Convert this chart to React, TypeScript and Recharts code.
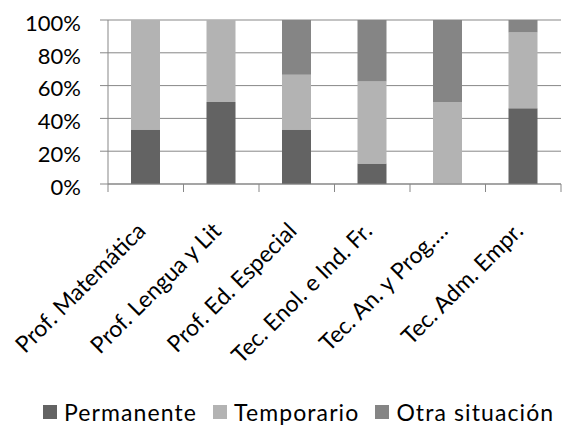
import { BarChart, Bar, XAxis, YAxis, CartesianGrid, Legend } from 'recharts';

const categories = [
  'Prof. Matemática',
  'Prof. Lengua y Lit',
  'Prof. Ed. Especial',
  'Tec. Enol. e Ind. Fr.',
  'Tec. An. y Prog.…',
  'Tec. Adm. Empr.',
];
const seriesNames = ['Permanente', 'Temporario', 'Otra situación'];
const permanente = [33.3, 50, 33.3, 12.5, 0, 46.2];
const temporario = [66.7, 50, 33.3, 50, 50, 46.2];
const otra = [0, 0, 33.4, 37.5, 50, 7.6];
const yTicks = [0, 0.2, 0.4, 0.6, 0.8, 1];

const data = categories.map((name, i) => ({
  name,
  permanente: permanente[i],
  temporario: temporario[i],
  otra: otra[i],
}));

const FONT = 'Lato, "Open Sans", sans-serif';
const GRID = '#878787';

function CategoryTick(props: any) {
  const { x, y, payload, index } = props;
  const half = payload?.offset ?? 37.75;
  const last = index === categories.length - 1;
  const tx = x - 5;
  const ty = y + 42;
  return (
    <g>
      <line x1={x - half} x2={x - half} y1={y} y2={y + 8} stroke={GRID} />
      {last && <line x1={x + half} x2={x + half} y1={y} y2={y + 8} stroke={GRID} />}
      <text
        x={tx}
        y={ty}
        transform={`rotate(-45, ${tx}, ${ty})`}
        textAnchor="end"
        dominantBaseline="central"
        fontFamily={FONT}
        fontSize={23}
        fill="#000"
      >
        {payload.value}
      </text>
    </g>
  );
}

function LegendContent(props: any) {
  const items = [...(props.payload || [])].sort(
    (a: any, b: any) => seriesNames.indexOf(a.value) - seriesNames.indexOf(b.value)
  );
  return (
    <div
      style={{
        height: 30,
        display: 'flex',
        justifyContent: 'flex-start',
        alignItems: 'center',
        paddingLeft: 43,
        whiteSpace: 'nowrap',
        fontFamily: FONT,
        fontSize: 23,
        letterSpacing: 1.1,
        color: '#000',
      }}
    >
      {items.map((entry: any, i: number) => (
        <div
          key={entry.value}
          style={{ display: 'flex', alignItems: 'center', flexShrink: 0, marginRight: i < items.length - 1 ? 16 : 0 }}
        >
          <span style={{ width: 14, height: 14, background: entry.color, marginRight: 7, flexShrink: 0, display: 'inline-block' }} />
          <span>{entry.value}</span>
        </div>
      ))}
    </div>
  );
}

export default function App() {
  return (
    <div style={{ position: 'absolute', left: 0, top: 0, background: '#fff' }}>
      <BarChart
        width={563}
        height={428}
        data={data}
        stackOffset="expand"
        barSize={29}
        margin={{ top: 20, right: 2, left: 0, bottom: 0 }}
      >
        <CartesianGrid vertical={false} stroke={GRID} />
        <XAxis
          dataKey="name"
          height={214}
          interval={0}
          tickSize={0}
          tickMargin={0}
          tickLine={false}
          axisLine={{ stroke: GRID }}
          tick={<CategoryTick />}
        />
        <YAxis
          width={108}
          ticks={yTicks}
          domain={[0, 1]}
          tickFormatter={(v: number) => `${Math.round(v * 100)}%`}
          tickSize={8}
          tickMargin={19}
          axisLine={{ stroke: GRID }}
          tickLine={{ stroke: GRID }}
          tick={{ fill: '#000', fontSize: 22, fontFamily: FONT, dy: 3 }}
        />
        <Legend
          verticalAlign="bottom"
          content={<LegendContent />}
          wrapperStyle={{ left: 0, width: 563, top: 397 }}
        />
        <Bar dataKey="permanente" name="Permanente" stackId="a" fill="#636363" isAnimationActive={false} />
        <Bar dataKey="temporario" name="Temporario" stackId="a" fill="#b3b3b3" isAnimationActive={false} />
        <Bar dataKey="otra" name="Otra situación" stackId="a" fill="#858585" isAnimationActive={false} />
      </BarChart>
    </div>
  );
}
